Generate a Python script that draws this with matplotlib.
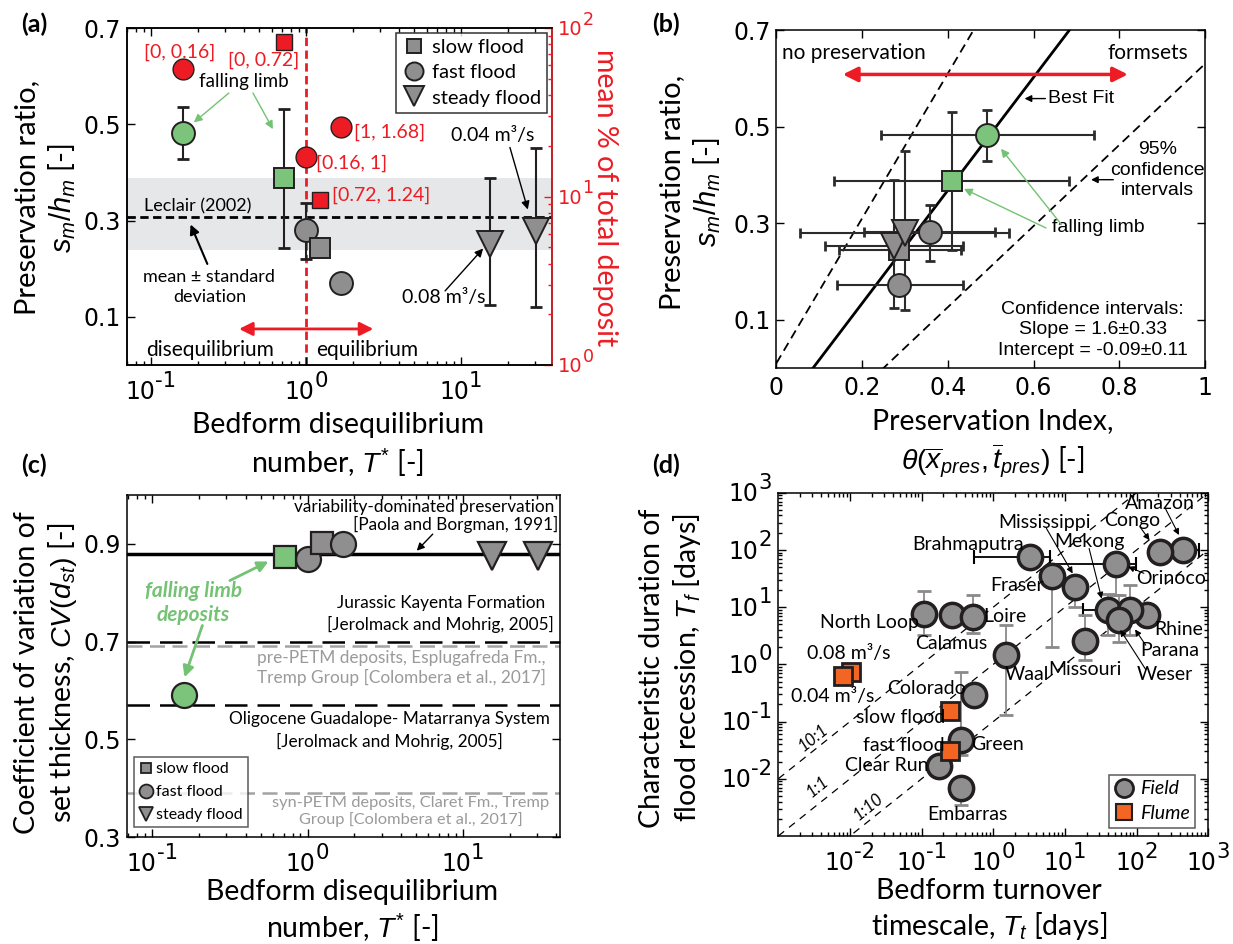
import numpy as np
import matplotlib
matplotlib.use("Agg")
import matplotlib.pyplot as plt
from matplotlib.lines import Line2D
from matplotlib.ticker import LogLocator, NullFormatter, FixedLocator

plt.rcParams['font.family'] = ['Lato', 'DejaVu Sans']
plt.rcParams['mathtext.fontset'] = 'custom'
plt.rcParams['mathtext.rm'] = 'Liberation Sans'
plt.rcParams['mathtext.it'] = 'Liberation Sans:italic'
plt.rcParams['mathtext.bf'] = 'Liberation Sans:bold'
plt.rcParams['axes.linewidth'] = 1.1
plt.rcParams['xtick.direction'] = 'in'
plt.rcParams['ytick.direction'] = 'in'

GRAY = '#8f8f8f'
GREEN = '#7cc47c'
RED = '#ed1c24'
ORANGE = '#f26522'
EDGE = '#231f20'
HELV = 'Liberation Sans'
TICKFONT = 'DejaVu Sans'
TICKSIZE = 17
nan = np.nan

# ---- flume runs (panels a, b, c) ----
tstar = [0.16, 0.72, 1.0, 1.24, 1.68, 15.5, 30.6]
run_kind = ['fast', 'slow', 'fast', 'slow', 'fast', 'steady', 'steady']
falling_limb = [True, True, False, False, False, False, False]
pres_ratio = [0.483, 0.388, 0.281, 0.244, 0.171, 0.252, 0.279]
pres_lo = [0.429, 0.244, 0.221, 0.232, 0.155, 0.125, 0.121]
pres_hi = [0.535, 0.531, 0.337, 0.257, 0.190, 0.389, 0.450]
pres_index = [0.492, 0.410, 0.358, 0.287, 0.287, 0.274, 0.300]
pidx_lo = [0.243, 0.134, 0.205, 0.145, 0.142, 0.113, 0.056]
pidx_hi = [0.740, 0.683, 0.510, 0.430, 0.435, 0.435, 0.543]
cv_dst = [0.590, 0.873, 0.870, 0.902, 0.900, 0.875, 0.875]

# mean % of total deposit for T* bins (red, right axis of a)
bin_label = ['[0, 0.16]', '[0, 0.72]', '[0.16, 1]', '[1, 1.68]', '[0.72, 1.24]']
bin_tstar = [0.16, 0.72, 1.0, 1.68, 1.24]
bin_kind = ['fast', 'slow', 'fast', 'fast', 'slow']
bin_pct = [57, 83, 17.1, 25.8, 9.55]

leclair_mean = 0.308
leclair_lo, leclair_hi = 0.239, 0.389

fit_slope, slope_ci = 1.17, 0.33
fit_icpt, icpt_ci = -0.10, 0.11

paola_cv = 0.88
kayenta_cv = 0.70
esplugafreda_cv = 0.69
guadalope_cv = 0.57
claret_cv = 0.39

# ---- rivers and flume (panel d) ----
river = ['Amazon', 'Congo', 'Orinoco', 'Mississippi', 'Mekong', 'Brahmaputra', 'Fraser',
         'Rhine', 'Parana', 'Weser', 'Missouri', 'Waal', 'North Loop', 'Calamus', 'Loire',
         'Colorado', 'Green', 'Clear Run', 'Embarras']
river_tt = [443, 209, 51, 14.0, 40, 3.3, 6.6, 140, 81, 56, 19.2, 1.5, 0.108, 0.268, 0.52,
            0.535, 0.357, 0.172, 0.357]
river_tf = [100, 93, 56, 22.7, 8.9, 76, 35, 7.2, 8.9, 5.9, 2.6, 1.44, 7.7, 7.2, 6.8,
            0.29, 0.048, 0.0166, 0.007]
river_tf_lo = [nan, nan, 16, 10, 3.2, nan, 2.0, nan, 3.2, 2.5, 1.2, 0.13, 3.2, nan, 3.5,
               0.21, 0.026, nan, 0.0035]
river_tf_hi = [nan, nan, nan, 34, 17, nan, 54, nan, 24, 16, 7.2, 4.8, 19.3, nan, 16.6,
               0.38, 0.74, nan, nan]
river_tt_lo = [184, nan, 6.2, nan, 17.8, 0.53, nan, nan, nan, nan, nan, nan, nan, nan, nan,
               nan, nan, nan, nan]
river_tt_hi = [733, nan, 98, nan, 74, 6.2, nan, nan, nan, nan, nan, nan, nan, nan, nan,
               nan, nan, nan, nan]
flume_run = ['0.08 m³/s', '0.04 m³/s', 'slow flood', 'fast flood']
flume_tt = [0.0102, 0.0081, 0.25, 0.25]
flume_tf = [0.74, 0.62, 0.154, 0.031]
turnover_ratio = [10, 1, 0.1]
ratio_label = ['10:1', '1:1', '1:10']

MARK = {'slow': 's', 'fast': 'o', 'steady': 'v'}
MS = {'slow': 14, 'fast': 16.5, 'steady': 19}

fig = plt.figure(figsize=(12.33, 9.44), dpi=100)
renderer = fig.canvas.get_renderer()


def log_minor(axis):
    axis.set_major_locator(LogLocator(base=10, numticks=12))
    axis.set_minor_locator(LogLocator(base=10, subs=np.arange(2, 10), numticks=12))
    axis.set_minor_formatter(NullFormatter())


def pow_labels(ax, axis, vals, size=TICKSIZE, color='k', side='left'):
    # MATLAB-like 10^n labels with a big exponent
    hd = 0.729 * size
    for v in vals:
        e = int(round(np.log10(v)))
        if axis == 'x':
            tr, xy = ax.get_xaxis_transform(), (v, 0)
        else:
            tr, xy = ax.get_yaxis_transform(), (1 if side == 'right' else 0, v)
        kw = dict(xycoords=tr, textcoords='offset points', ha='left', va='baseline',
                  family=TICKFONT, color=color, annotation_clip=False)
        b = ax.annotate('10', xy=xy, xytext=(0, 0), fontsize=size, **kw)
        s = ax.annotate(str(e), xy=xy, xytext=(0, 0), fontsize=0.9 * size, **kw)
        wb = b.get_window_extent(renderer).width * 72 / fig.dpi
        ws = s.get_window_extent(renderer).width * 72 / fig.dpi
        if axis == 'x':
            x0, y0 = -(wb + ws) / 2, -(4.5 + 1.63 * hd)
        elif side == 'left':
            x0, y0 = -(wb + ws) - 4.5, -hd / 2
        else:
            x0, y0 = 4.5, -hd / 2
        b.xyann = (x0, y0)
        s.xyann = (x0 + wb, y0 + 0.73 * hd)


def ticks(ax):
    ax.tick_params(which='both', top=True, right=True, width=1)
    ax.tick_params(which='major', length=6, labelsize=TICKSIZE, labelfontfamily=TICKFONT)
    ax.tick_params(which='minor', length=3)
    ax.tick_params(axis='x', pad=6)
    ax.tick_params(axis='y', pad=4)


def face(i):
    return GREEN if falling_limb[i] else GRAY


# ================= (a) =================
axa = fig.add_axes([0.1026, 0.6133, 0.3447, 0.357])
axa.set_xscale('log')
axa.set_xlim(0.0695, 38.4)
axa.set_ylim(0, 0.7)
axa.set_yticks([0.1, 0.3, 0.5, 0.7])
axa.set_yticklabels(['0.1', '0.3', '0.5', '0.7'])
log_minor(axa.xaxis)
ticks(axa)
axa.tick_params(which='both', right=False, labelbottom=False)
pow_labels(axa, 'x', [0.1, 1, 10])

axa.axhspan(leclair_lo, leclair_hi, color='#e6e7e8', lw=0, zorder=0)
axa.axhline(leclair_mean, color='k', ls=(0, (3, 1.6)), lw=2, zorder=1)
axa.axvline(1.0, color=RED, ls=(0, (3, 1.6)), lw=2, zorder=1)

for i in range(len(tstar)):
    axa.errorbar(tstar[i], pres_ratio[i],
                 yerr=[[pres_ratio[i] - pres_lo[i]], [pres_hi[i] - pres_ratio[i]]],
                 fmt='none', ecolor=EDGE, elinewidth=1.5, capsize=4, capthick=2, zorder=2)
    axa.plot(tstar[i], pres_ratio[i], MARK[run_kind[i]], ms=MS[run_kind[i]],
             mfc=face(i), mec=EDGE, mew=1.4, zorder=3)

axr = axa.twinx()
axr.set_yscale('log')
axr.set_ylim(1, 100)
log_minor(axr.yaxis)
axr.tick_params(which='both', colors=RED, width=1, labelright=False)
axr.tick_params(which='major', length=6)
axr.tick_params(which='minor', length=3)
axr.spines['right'].set_color(RED)
pow_labels(axr, 'y', [1, 10, 100], size=14, color=RED, side='right')
for i in range(len(bin_tstar)):
    axr.plot(bin_tstar[i], bin_pct[i], MARK[bin_kind[i]],
             ms=15 if bin_kind[i] == 'fast' else 11.5, mfc=RED, mec=EDGE, mew=1, zorder=4)

red_txt = [(0.153, 0.650, 'center'), (0.532, 0.633, 'center'), (1.16, 0.419, 'left'),
           (2.04, 0.483, 'left'), (1.47, 0.352, 'left')]
for (x, y, ha), lab in zip(red_txt, bin_label):
    axa.text(x, y, lab, color=RED, fontsize=14, ha=ha, va='center', zorder=6)

axa.text(0.398, 0.588, 'falling limb', fontsize=13.5, ha='center', va='center', zorder=6)
garrow = dict(arrowstyle='-|>', color='#74c274', lw=1, mutation_scale=12, shrinkA=0, shrinkB=0)
axa.annotate('', xy=(0.189, 0.504), xytext=(0.318, 0.565), arrowprops=garrow)
axa.annotate('', xy=(0.612, 0.49), xytext=(0.455, 0.565), arrowprops=garrow)
axa.text(0.090, 0.329, 'Leclair (2002)', fontsize=13, ha='left', va='center')
axa.text(0.238, 0.163, 'mean ± standard\ndeviation', fontsize=13, ha='center', va='center',
         linespacing=1.3)
karrow = dict(arrowstyle='-|>', color='k', lw=1.5, mutation_scale=14, shrinkA=0, shrinkB=0)
axa.annotate('', xy=(0.18, 0.292), xytext=(0.231, 0.21), arrowprops=karrow)
thin_a = dict(arrowstyle='-|>', color='k', lw=1, mutation_scale=12, shrinkA=0, shrinkB=0)
axa.text(16.1, 0.477, '0.04 m³/s', fontsize=14, ha='center', va='center')
axa.annotate('', xy=(27, 0.323), xytext=(20.7, 0.452), arrowprops=thin_a)
axa.text(7.77, 0.14, '0.08 m³/s', fontsize=14, ha='center', va='center')
axa.annotate('', xy=(13.9, 0.242), xytext=(7.9, 0.154), arrowprops=thin_a)
axa.annotate('', xy=(2.72, 0.075), xytext=(0.37, 0.075),
             arrowprops=dict(arrowstyle='<|-|>', color=RED, lw=2, mutation_scale=20,
                             shrinkA=0, shrinkB=0))
axa.text(0.24, 0.031, 'disequilibrium', fontsize=15, ha='center', va='center')
axa.text(2.48, 0.031, 'equilibrium', fontsize=15, ha='center', va='center')

leg_a = [Line2D([], [], ls='none', marker='s', ms=10, mfc=GRAY, mec=EDGE, mew=1.4, label='slow flood'),
         Line2D([], [], ls='none', marker='o', ms=13, mfc=GRAY, mec=EDGE, mew=1.4, label='fast flood'),
         Line2D([], [], ls='none', marker='v', ms=14, mfc=GRAY, mec=EDGE, mew=1.4, label='steady flood')]
lg = axr.legend(handles=leg_a, loc='upper right', bbox_to_anchor=(0.99, 0.985), fontsize=14.5,
                frameon=True, fancybox=False, edgecolor='k', handletextpad=0.3,
                borderpad=0.3, labelspacing=0.4, handlelength=1.2, borderaxespad=0)
lg.get_frame().set_linewidth(1.1)

axa.text(-0.19, 0.496, 'Preservation ratio,\n$s_m/h_m$ [-]', transform=axa.transAxes,
         rotation=90, ha='center', va='center', fontsize=21, linespacing=1.25)
axa.text(1.126, 0.496, 'mean % of total deposit', transform=axa.transAxes, rotation=270,
         ha='center', va='center', fontsize=20.5, color=RED)
axa.text(0.497, -0.24, 'Bedform disequilibrium\nnumber, $T^{*}$ [-]', transform=axa.transAxes,
         ha='center', va='center', fontsize=20.5, linespacing=1.3)
fig.text(34 / 1233, 1 - 24 / 944, '(a)', fontsize=18, fontweight='bold', ha='center', va='center')

# ================= (b) =================
axb = fig.add_axes([0.6297, 0.6102, 0.3476, 0.358])
axb.set_xlim(0, 1)
axb.set_ylim(0, 0.7)
axb.set_xticks([0, 0.2, 0.4, 0.6, 0.8, 1])
axb.set_xticklabels(['0', '0.2', '0.4', '0.6', '0.8', '1'])
axb.set_yticks([0.1, 0.3, 0.5, 0.7])
axb.set_yticklabels(['0.1', '0.3', '0.5', '0.7'])
ticks(axb)

xx = np.linspace(0, 1, 50)
axb.plot(xx, fit_slope * xx + fit_icpt, color='k', lw=2, zorder=2)
axb.plot(xx, (fit_slope + slope_ci) * xx + fit_icpt + icpt_ci, color='k', lw=1.3,
         ls=(0, (5, 3)), zorder=2)
axb.plot(xx, (fit_slope - slope_ci) * xx + fit_icpt - icpt_ci, color='k', lw=1.3,
         ls=(0, (5, 3)), zorder=2)

order_b = [2, 4, 3, 5, 6, 1, 0]
for i in order_b:
    axb.errorbar(pres_index[i], pres_ratio[i],
                 xerr=[[pres_index[i] - pidx_lo[i]], [pidx_hi[i] - pres_index[i]]],
                 yerr=[[pres_ratio[i] - pres_lo[i]], [pres_hi[i] - pres_ratio[i]]],
                 fmt='none', ecolor='#2b2b2b', elinewidth=1.5, capsize=3.5, capthick=2, zorder=3)
for i in order_b:
    axb.plot(pres_index[i], pres_ratio[i], MARK[run_kind[i]], ms=MS[run_kind[i]],
             mfc=face(i), mec=EDGE, mew=1.4, zorder=4)

axb.annotate('', xy=(0.82, 0.608), xytext=(0.155, 0.608),
             arrowprops=dict(arrowstyle='<|-|>', color=RED, lw=2.5, mutation_scale=22,
                             shrinkA=0, shrinkB=0))
axb.text(0.014, 0.652, 'no preservation', fontsize=15, ha='left', va='center')
axb.text(0.962, 0.652, 'formsets', fontsize=15, ha='right', va='center')
axb.annotate('Best Fit', xy=(0.579, 0.558), xytext=(0.634, 0.558), fontsize=14, family=HELV,
             va='center', ha='left',
             arrowprops=dict(arrowstyle='-|>', color='k', lw=1, mutation_scale=10,
                             shrinkA=0, shrinkB=0))
axb.text(0.889, 0.41, '95%\nconfidence\nintervals', fontsize=14, family=HELV, ha='center',
         va='center', linespacing=1.25)
axb.annotate('', xy=(0.734, 0.39), xytext=(0.786, 0.39),
             arrowprops=dict(arrowstyle='-|>', color='k', lw=1, mutation_scale=10,
                             shrinkA=0, shrinkB=0))
axb.text(0.644, 0.29, 'falling limb', fontsize=14, family=HELV, ha='left', va='center')
axb.annotate('', xy=(0.524, 0.454), xytext=(0.665, 0.297), arrowprops=garrow)
axb.annotate('', xy=(0.4375, 0.371), xytext=(0.629, 0.29), arrowprops=garrow)
axb.text(0.738, 0.079, 'Confidence intervals:\nSlope = 1.6±0.33\nIntercept = -0.09±0.11',
         fontsize=14, family=HELV, ha='center', va='center', linespacing=1.25)

axb.text(-0.2, 0.52, 'Preservation ratio,\n$s_m/h_m$ [-]', transform=axb.transAxes,
         rotation=90, ha='center', va='center', fontsize=21, linespacing=1.25)
axb.text(0.505, -0.225,
         'Preservation Index,\n' + r'$\theta(\overline{x}_{pres},\overline{t}_{pres})$ [-]',
         transform=axb.transAxes, ha='center', va='center', fontsize=20.5, linespacing=1.3)
fig.text(666 / 1233, 1 - 24 / 944, '(b)', fontsize=18, fontweight='bold', ha='center', va='center')

# ================= (c) =================
axc = fig.add_axes([0.1028, 0.1133, 0.3514, 0.3623])
axc.set_xscale('log')
axc.set_xlim(0.0684, 42.3)
axc.set_ylim(0.3, 1.0)
axc.set_yticks([0.3, 0.5, 0.7, 0.9])
axc.set_yticklabels(['0.3', '0.5', '0.7', '0.9'])
log_minor(axc.xaxis)
ticks(axc)
axc.tick_params(labelbottom=False)
pow_labels(axc, 'x', [0.1, 1, 10])

axc.axhline(paola_cv, color='k', lw=2.5, zorder=1)
axc.axhline(kayenta_cv, color='k', lw=1.8, ls=(0, (9, 4)), zorder=1)
axc.axhline(esplugafreda_cv, color='#a3a3a3', lw=1.8, ls=(0, (6, 3)), zorder=1)
axc.axhline(guadalope_cv, color='k', lw=1.8, ls=(0, (9, 4)), zorder=1)
axc.axhline(claret_cv, color='#a3a3a3', lw=1.8, ls=(0, (6, 3)), zorder=1)

for i in [2, 1, 3, 4, 5, 6, 0]:
    axc.plot(tstar[i], cv_dst[i], MARK[run_kind[i]], ms=MS[run_kind[i]] + 1.5,
             mfc=face(i), mec=EDGE, mew=1.6, zorder=3)

CFS = 12.4
axc.text(39, 0.976, 'variability-dominated preservation', fontsize=CFS, ha='right', va='center')
axc.text(41, 0.939, '[Paola and Borgman, 1991]', fontsize=CFS, ha='right', va='center')
axc.annotate('', xy=(5.05, 0.886), xytext=(6.4, 0.92),
             arrowprops=dict(arrowstyle='-|>', color='k', lw=1, mutation_scale=11,
                             shrinkA=0, shrinkB=0))
axc.text(7.2, 0.78, 'Jurassic Kayenta Formation', fontsize=CFS, ha='center', va='center')
axc.text(7.2, 0.735, '[Jerolmack and Mohrig, 2005]', fontsize=CFS, ha='center', va='center')
axc.text(4.0, 0.646, 'pre-PETM deposits, Esplugafreda Fm.,\nTremp Group [Colombera et al., 2017]',
         fontsize=CFS, ha='center', va='center', color='#9a9a9a', linespacing=1.2)
axc.text(3.35, 0.541, 'Oligocene Guadalope- Matarranya System', fontsize=CFS, ha='center',
         va='center')
axc.text(3.35, 0.496, '[Jerolmack and Mohrig, 2005]', fontsize=CFS, ha='center', va='center')
axc.text(4.6, 0.352, 'syn-PETM deposits, Claret Fm., Tremp\nGroup [Colombera et al., 2017]',
         fontsize=11.8, ha='center', va='center', color='#9a9a9a', linespacing=1.2)
axc.text(0.183, 0.779, 'falling limb\ndeposits', fontsize=15, ha='center', va='center',
         color='#74c274', style='italic', fontweight='bold', linespacing=1.3)
garrow2 = dict(arrowstyle='-|>', color='#74c274', lw=2, mutation_scale=16, shrinkA=0, shrinkB=0)
axc.annotate('', xy=(0.56, 0.864), xytext=(0.316, 0.825), arrowprops=garrow2)
axc.annotate('', xy=(0.161, 0.627), xytext=(0.21, 0.733), arrowprops=garrow2)

leg_c = [Line2D([], [], ls='none', marker='s', ms=7.5, mfc=GRAY, mec=EDGE, mew=1.3, label='slow flood'),
         Line2D([], [], ls='none', marker='o', ms=10, mfc=GRAY, mec=EDGE, mew=1.3, label='fast flood'),
         Line2D([], [], ls='none', marker='v', ms=10.5, mfc=GRAY, mec=EDGE, mew=1.3, label='steady flood')]
lgc = axc.legend(handles=leg_c, loc='lower left', bbox_to_anchor=(0.017, 0.029), fontsize=11.5,
                 frameon=True, fancybox=False, edgecolor='#333333', handletextpad=0.2,
                 borderpad=0.3, labelspacing=0.55, handlelength=0.9, borderaxespad=0)
lgc.get_frame().set_linewidth(1.1)

axc.text(-0.186, 0.482, 'Coefficient of variation of\nset thickness, $CV(d_{st})$ [-]',
         transform=axc.transAxes, rotation=90, ha='center', va='center', fontsize=20.5,
         linespacing=1.25)
axc.text(0.52, -0.218, 'Bedform disequilibrium\nnumber, $T^{*}$ [-]', transform=axc.transAxes,
         ha='center', va='center', fontsize=20.5, linespacing=1.25)
fig.text(34 / 1233, 1 - 465 / 944, '(c)', fontsize=18, fontweight='bold', ha='center', va='center')

# ================= (d) =================
axd = fig.add_axes([0.6312, 0.1144, 0.3488, 0.3637])
axd.set_xscale('log')
axd.set_yscale('log')
axd.set_xlim(1e-3, 1e3)
axd.set_ylim(1e-3, 1e3)
for axis in (axd.xaxis, axd.yaxis):
    log_minor(axis)
    axis.set_major_locator(FixedLocator([1e-2, 1e-1, 1, 1e1, 1e2, 1e3]))
ticks(axd)
axd.tick_params(labelbottom=False, labelleft=False)
pow_labels(axd, 'x', [1e-2, 1e-1, 1, 1e1, 1e2, 1e3])
pow_labels(axd, 'y', [1e-2, 1e-1, 1, 1e1, 1e2, 1e3])

xr = np.array([1e-3, 1e3])
for r in turnover_ratio:
    axd.plot(xr, r * xr, color='k', lw=0.9, ls=(0, (6, 5)), zorder=1)
for (x, y), lab in zip([(0.0031, 0.052), (0.0035, 0.0072), (0.018, 0.0033)], ratio_label):
    axd.text(x, y, lab, fontsize=12, style='italic', rotation=38.6, ha='center', va='center')

for i in range(len(river)):
    if not np.isnan(river_tf_lo[i]) or not np.isnan(river_tf_hi[i]):
        lo = river_tf[i] if np.isnan(river_tf_lo[i]) else river_tf_lo[i]
        hi = river_tf[i] if np.isnan(river_tf_hi[i]) else river_tf_hi[i]
        eb = axd.errorbar(river_tt[i], river_tf[i],
                          yerr=[[river_tf[i] - lo], [hi - river_tf[i]]],
                          fmt='none', ecolor='#8a8a8a', elinewidth=1.3, capsize=5, capthick=2,
                          zorder=2)
        for c in eb[1]:
            c.set_color('k')
    if not np.isnan(river_tt_lo[i]):
        axd.errorbar(river_tt[i], river_tf[i],
                     xerr=[[river_tt[i] - river_tt_lo[i]], [river_tt_hi[i] - river_tt[i]]],
                     fmt='none', ecolor='k', elinewidth=1.3, capsize=5, capthick=1.5, zorder=2)
axd.plot(river_tt, river_tf, 'o', ls='none', ms=17.5, mfc=GRAY, mec=EDGE, mew=2.5, zorder=3)
axd.plot(flume_tt, flume_tf, 's', ls='none', ms=12.5, mfc=ORANGE, mec=EDGE, mew=2, zorder=4)

d_labels = {'Amazon': (209, 650), 'Congo': (86, 331), 'Mississippi': (5.1, 298),
            'Mekong': (21.7, 138), 'Brahmaputra': (0.44, 126), 'Fraser': (2.13, 24.3),
            'Orinoco': (302, 31.6), 'North Loop': (0.0185, 5.3), 'Loire': (1.46, 6.8),
            'Calamus': (0.26, 2.3), 'Rhine': (389, 4.07), 'Parana': (286, 1.77),
            'Weser': (251, 0.67), 'Missouri': (19.2, 0.81), 'Waal': (2.9, 0.67),
            'Colorado': (0.118, 0.377), 'Green': (1.13, 0.04), 'Clear Run': (0.033, 0.0172),
            'Embarras': (0.44, 0.0024), '0.08 m³/s': (0.0096, 1.55),
            '0.04 m³/s': (0.0058, 0.277), 'slow flood': (0.051, 0.117),
            'fast flood': (0.056, 0.0386)}
for name, (x, y) in d_labels.items():
    axd.text(x, y, name, fontsize=14, ha='center', va='center', zorder=5)
thin = dict(arrowstyle='-|>', color='k', lw=0.8, mutation_scale=9, shrinkA=0, shrinkB=0)
for (x0, y0), (x1, y1) in [((251, 532), (389, 182)), ((111, 254), (151, 148)),
                           ((5.5, 238), (12.8, 38.8)), ((21.7, 106), (32.5, 14.1)),
                           ((134, 0.81), (59, 4.0)), ((134, 2.16), (95, 4.07)),
                           ((126, 39), (76, 51))]:
    axd.annotate('', xy=(x1, y1), xytext=(x0, y0), arrowprops=thin)

leg_d = [Line2D([], [], ls='none', marker='o', ms=13, mfc=GRAY, mec=EDGE, mew=2, label='Field'),
         Line2D([], [], ls='none', marker='s', ms=11, mfc=ORANGE, mec=EDGE, mew=1.5, label='Flume')]
lgd = axd.legend(handles=leg_d, loc='lower right', bbox_to_anchor=(0.97, 0.023),
                 prop=dict(size=14, style='italic'), frameon=True, fancybox=False,
                 edgecolor='#333333', handletextpad=0.3, borderpad=0.3, labelspacing=0.4,
                 handlelength=1.0, borderaxespad=0)
lgd.get_frame().set_linewidth(1.1)

axd.text(-0.25, 0.49, 'Characteristic duration of\nflood recession, $T_f$ [days]',
         transform=axd.transAxes, rotation=90, ha='center', va='center', fontsize=20.5,
         linespacing=1.25)
axd.text(0.49, -0.215, 'Bedform turnover\ntimescale, $T_t$ [days]', transform=axd.transAxes,
         ha='center', va='center', fontsize=20.5, linespacing=1.25)
fig.text(666 / 1233, 1 - 465 / 944, '(d)', fontsize=18, fontweight='bold', ha='center', va='center')

fig.savefig('out.png', dpi=100)
